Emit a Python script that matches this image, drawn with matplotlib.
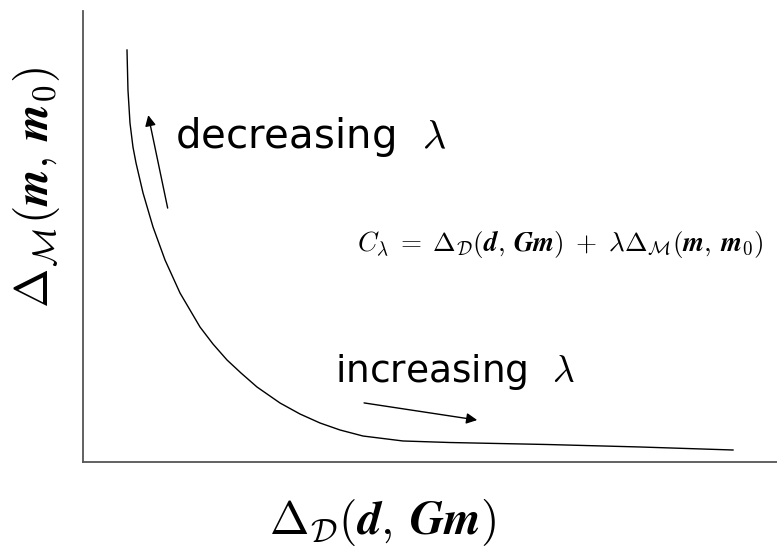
import numpy as np
import matplotlib
matplotlib.use('Agg')
import matplotlib.pyplot as plt

plt.rcParams.update({'mathtext.fontset': 'cm', 'font.family': 'DejaVu Sans'})

# L-curve (arbitrary units, axes span 0..10)
misfit = [0.634, 0.648, 0.677, 0.720, 0.764, 0.865, 1.009, 1.182, 1.398, 1.686, 1.873, 2.075,
          2.277, 2.507, 2.839, 3.127, 3.415, 3.703, 4.035, 4.611, 5.288, 6.686, 8.026, 9.366]
model_norm = [9.135, 8.248, 7.517, 6.984, 6.630, 5.965, 5.211, 4.479, 3.747, 2.993, 2.616, 2.262,
              1.973, 1.663, 1.308, 1.064, 0.865, 0.710, 0.576, 0.466, 0.432, 0.388, 0.333, 0.266]

dec_arrow = [(1.22, 5.63), (0.94, 7.69)]   # tail, head
inc_arrow = [(4.05, 1.31), (5.68, 0.93)]

fig = plt.figure(figsize=(7.77, 5.54), dpi=100)
ax = fig.add_axes([83/777, 92/554, 694/777, 451/554])
ax.plot(misfit, model_norm, color='black', lw=1.0)
ax.set_xlim(0, 10); ax.set_ylim(0, 10)
ax.set_xticks([]); ax.set_yticks([])
for s in ('top', 'right'): ax.spines[s].set_visible(False)
for s in ('left', 'bottom'):
    ax.spines[s].set_color('#555555'); ax.spines[s].set_linewidth(1.3)

for (t, h) in (dec_arrow, inc_arrow):
    ax.annotate('', xy=h, xytext=t,
                arrowprops=dict(arrowstyle='-|>', color='black', lw=1.0, mutation_scale=16, shrinkA=0, shrinkB=0))

ax.text(1.33, 6.96, r'decreasing  $\lambda$', fontsize=29, ha='left', va='baseline')
ax.text(3.63, 1.77, r'increasing  $\lambda$', fontsize=27, ha='left', va='baseline')
ax.text(3.95, 4.83,
        r'$C_\lambda \;=\; \Delta_\mathcal{D}(\mathbfit{d},\,\mathbfit{G}\mathbfit{m}) \;+\; '
        r'\lambda\Delta_\mathcal{M}(\mathbfit{m},\,\mathbfit{m}_\mathbf{0})$',
        fontsize=19.5, ha='left', va='center')

fig.text(37/777, 1 - 187/554, r'$\Delta_\mathcal{M}(\mathbfit{m},\,\mathbfit{m}_\mathbf{0})$',
         fontsize=34, rotation=90, ha='center', va='center')
fig.text(382/777, 1 - 523/554, r'$\Delta_\mathcal{D}(\mathbfit{d},\,\mathbfit{G}\mathbfit{m})$',
         fontsize=34, ha='center', va='center')

fig.savefig('out.png', dpi=100)
